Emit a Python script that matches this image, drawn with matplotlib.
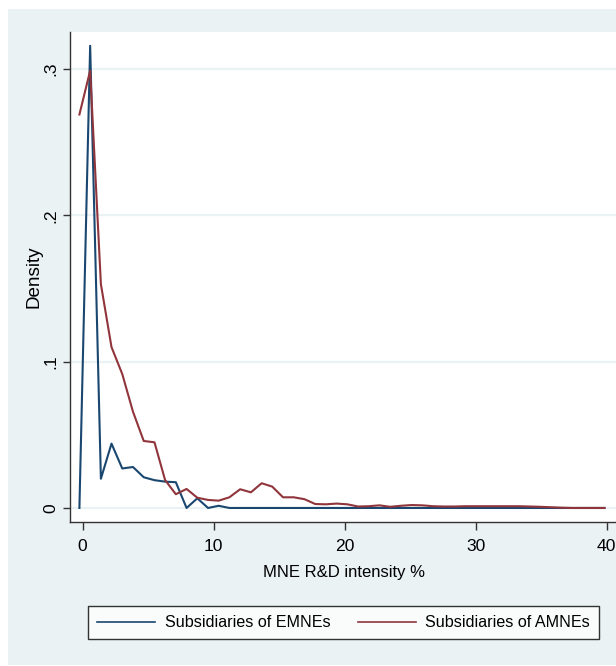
import matplotlib
matplotlib.use('Agg')
import matplotlib.pyplot as plt
from matplotlib.patches import Rectangle

# kernel density estimates of MNE R&D intensity, evaluated on a common grid
grid = [-0.25, 0.57, 1.39, 2.20, 3.02, 3.84, 4.66, 5.48, 6.29, 7.11,
        7.93, 8.75, 9.57, 10.38, 11.20, 12.02, 12.84, 13.66, 14.47, 15.29,
        16.11, 16.93, 17.75, 18.56, 19.38, 20.20, 21.02, 21.84, 22.65, 23.47,
        24.29, 25.11, 25.93, 26.74, 27.56, 28.38, 29.20, 30.02, 30.83, 31.65,
        32.47, 33.29, 34.11, 34.92, 35.74, 36.56, 37.38, 38.20, 39.01, 39.83]

dens_emne = [0, 0.316, 0.020, 0.044, 0.027, 0.028, 0.021, 0.019, 0.018, 0.0176,
             0, 0.0066, 0, 0.0015, 0, 0, 0, 0, 0, 0,
             0, 0, 0, 0, 0, 0, 0, 0, 0, 0,
             0, 0, 0, 0, 0, 0, 0, 0, 0, 0,
             0, 0, 0, 0, 0, 0, 0, 0, 0, 0]

dens_amne = [0.269, 0.299, 0.153, 0.110, 0.0916, 0.0658, 0.0458, 0.0449, 0.0191, 0.0094,
             0.013, 0.007, 0.0055, 0.005, 0.0073, 0.0128, 0.0107, 0.0169, 0.0146, 0.0073,
             0.0073, 0.006, 0.0027, 0.0025, 0.003, 0.0025, 0.001, 0.0012, 0.0018, 0.0008,
             0.0015, 0.002, 0.0018, 0.0012, 0.001, 0.001, 0.0012, 0.0012, 0.0012, 0.0012,
             0.0012, 0.0012, 0.001, 0.0008, 0.0005, 0.0002, 0, 0, 0, 0]

xticks = [0, 10, 20, 30, 40]
yticks = [0, 0.1, 0.2, 0.3]
ytick_labels = ['0', '.1', '.2', '.3']

bg = '#eaf2f3'
navy = '#1a476f'
maroon = '#90353b'
plt.rcParams['font.family'] = ['Liberation Sans', 'DejaVu Sans']
fs = 11.6

fig = plt.figure(figsize=(6.16, 6.66), dpi=100)
fig.patches.append(Rectangle((0.013, 0.0015), 1.1, 0.985, transform=fig.transFigure,
                             facecolor=bg, edgecolor='none', zorder=-5))

ax = fig.add_axes([0.1136, 0.2162, 0.8896, 0.7357])
ax.set_zorder(2)
ax.set_facecolor('white')
for y in yticks:
    ax.axhline(y, color=bg, lw=1.6, zorder=1)
ax.plot(grid, dens_emne, color=navy, lw=1.5, label='Subsidiaries of EMNEs', zorder=3)
ax.plot(grid, dens_amne, color=maroon, lw=1.5, label='Subsidiaries of AMNEs', zorder=4)

ax.set_xlim(-0.97, 40.86)
ax.set_ylim(-0.0096, 0.3254)
for s in ['top', 'right']:
    ax.spines[s].set_visible(False)
for s in ['left', 'bottom']:
    ax.spines[s].set_color('#333333')
    ax.spines[s].set_linewidth(1.0)

ax.set_xticks(xticks)
ax.set_xticklabels([str(t) for t in xticks], fontsize=fs + 1)
ax.set_yticks(yticks)
ax.set_yticklabels(ytick_labels, fontsize=fs + 1, rotation=90, va='center')
ax.tick_params(axis='x', length=6, width=1, color='#333333', pad=6)
ax.tick_params(axis='y', length=5, width=1, color='#333333', pad=3)

ax.set_xlabel('MNE R&D intensity %', fontsize=fs + 0.4)
ax.xaxis.set_label_coords(0.5, -0.088)
ax.set_ylabel('Density', fontsize=fs + 2)
ax.yaxis.set_label_coords(-0.051, 0.5)

leg = fig.legend(loc='lower left', bbox_to_anchor=(0.1429, 0.0405, 0.8295, 0.063),
                 mode='expand', ncol=2, fontsize=fs, frameon=True, fancybox=False,
                 handlelength=3.6, handletextpad=0.6, borderpad=0.55, borderaxespad=0,
                 columnspacing=2.0)
leg.get_frame().set_edgecolor('black')
leg.get_frame().set_linewidth(1.0)
for line in leg.get_lines():
    line.set_linewidth(1.2)

fig.savefig('out.png', dpi=100)
